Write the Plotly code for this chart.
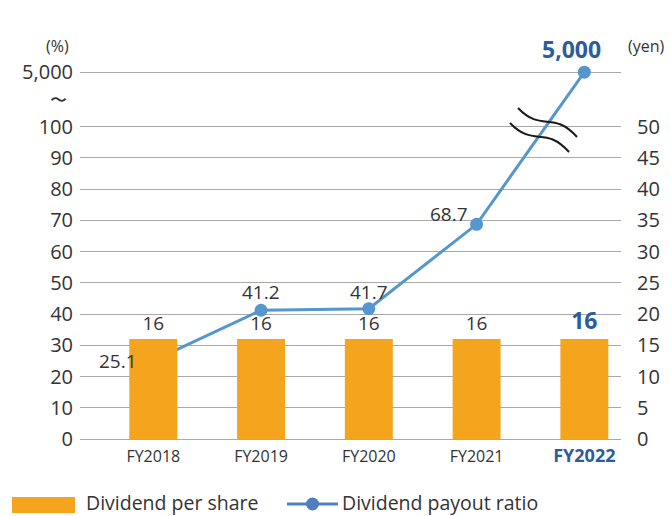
import plotly.graph_objects as go

# data
years = ["FY2018", "FY2019", "FY2020", "FY2021", "FY2022"]
dividend_yen = [16, 16, 16, 16, 16]
payout_pct = [25.1, 41.2, 41.7, 68.7, 5000]
left_ticks = [0, 10, 20, 30, 40, 50, 60, 70, 80, 90, 100]
right_ticks = [0, 5, 10, 15, 20, 25, 30, 35, 40, 45, 50]

ORANGE = "#F5A41D"
LINE = "#5597CC"
LEG_BLUE = "#4F7FC0"
NAVY = "#2C5C9C"
TXT = "#333333"
GRID = "#A9A9A9"
FONT = "Open Sans, Noto Sans, sans-serif"

# axis break: anything above 100 sits at the top gridline
BREAK_AT = 117.4


def shown(v):
    return BREAK_AT if v > 100 else v


def pct_label(v):
    return f"{v:,.0f}" if v > 100 else f"{v:.1f}"


# plot area in pixels (for paper-ref helper shapes)
PL, PR, PT, PB = 80, 621, 64, 439


def px(x, y):
    return (x - PL) / (PR - PL), (PB - y) / (PB - PT)


fig = go.Figure()

bar_text = [f"<b>{v}</b>" if i == len(years) - 1 else str(v) for i, v in enumerate(dividend_yen)]
fig.add_trace(go.Bar(
    x=years, y=dividend_yen, yaxis="y2", width=0.445,
    marker_color=ORANGE, marker_line_width=0,
    text=bar_text, textposition="outside", cliponaxis=False,
    textfont=dict(size=[19, 19, 19, 19, 23], color=[TXT, TXT, TXT, TXT, NAVY], family=FONT),
    showlegend=False,
))

fig.add_trace(go.Scatter(
    x=years, y=[shown(v) for v in payout_pct], mode="lines+markers",
    line=dict(color=LINE, width=3), marker=dict(size=13, color=LINE),
    cliponaxis=False, showlegend=False,
))

# point labels: (xanchor, xshift, yshift)
pos = [("right", -14, 0), ("center", 0, 18), ("center", 0, 17), ("right", -7, 10), ("center", -13, 23)]
for i, (yr, v) in enumerate(zip(years, payout_pct)):
    last = i == len(years) - 1
    anchor, dx, dy = pos[i]
    fig.add_annotation(
        x=yr, y=shown(v), text=f"<b>{pct_label(v)}</b>" if last else pct_label(v),
        showarrow=False, xshift=dx, yshift=dy, xanchor=anchor, yanchor="middle",
        font=dict(size=23 if last else 19, color=NAVY if last else TXT, family=FONT),
    )

# axis break waves
for ox, oy in [(0, 0), (-8, 15)]:
    pts = [px(518 + ox, 108 + oy), px(542 + ox, 133 + oy), px(553 + ox, 110 + oy), px(577 + ox, 137 + oy)]
    path = "M {:.4f},{:.4f} C {:.4f},{:.4f} {:.4f},{:.4f} {:.4f},{:.4f}".format(*[c for p in pts for c in p])
    fig.add_shape(type="path", path=path, xref="paper", yref="paper",
                  line=dict(color="#1a1a1a", width=2))


def note(x, y, text, size, anchor="center"):
    fig.add_annotation(x=px(x, 0)[0], y=px(0, y)[1], xref="paper", yref="paper", text=text,
                       xanchor=anchor, yanchor="middle", showarrow=False,
                       font=dict(size=size, color=TXT, family=FONT))


# unit labels and break mark
note(57, 46, "(%)", 16)
note(646, 46, "(yen)", 16)
note(58, 99, "〜", 17)

# custom legend
fig.add_shape(type="rect", xref="paper", yref="paper",
              x0=px(12, 0)[0], x1=px(75, 0)[0], y0=px(0, 513)[1], y1=px(0, 497)[1],
              fillcolor=ORANGE, line_width=0)
note(84, 502, "Dividend per share", 19.5, "left")
fig.add_shape(type="line", xref="paper", yref="paper",
              x0=px(287, 0)[0], x1=px(338, 0)[0], y0=px(0, 504)[1], y1=px(0, 504)[1],
              line=dict(color=LEG_BLUE, width=3))
fig.add_shape(type="circle", xref="paper", yref="paper",
              x0=px(306, 0)[0], x1=px(319, 0)[0], y0=px(0, 510.5)[1], y1=px(0, 497.5)[1],
              fillcolor=LEG_BLUE, line_width=0)
note(340, 502, "Dividend payout ratio", 19.5, "left")

tick_x = [f"<b><span style='color:{NAVY};font-size:18px'>{y}</span></b>" if i == len(years) - 1 else y
          for i, y in enumerate(years)]
fig.update_layout(
    width=671, height=516,
    margin=dict(l=PL, r=671 - PR, t=PT, b=516 - PB),
    plot_bgcolor="white", paper_bgcolor="white",
    font=dict(family=FONT, color=TXT),
    xaxis=dict(type="category", range=[-0.68, 4.34], tickvals=years, ticktext=tick_x,
               tickfont=dict(size=16, color=TXT), showgrid=False, showline=False,
               ticks="", ticklabelstandoff=6, automargin=False),
    yaxis=dict(range=[0, 120], tickvals=left_ticks + [BREAK_AT],
               ticktext=[str(v) for v in left_ticks] + ["5,000"],
               showgrid=True, gridcolor=GRID, gridwidth=1, zeroline=True,
               zerolinecolor=GRID, zerolinewidth=1, showline=False,
               tickfont=dict(size=20, color=TXT), ticklabelstandoff=6, automargin=False),
    yaxis2=dict(range=[0, 60], overlaying="y", side="right", tickvals=right_ticks,
                showgrid=False, zeroline=False, showline=False,
                tickfont=dict(size=20, color=TXT), ticklabelstandoff=15, automargin=False),
)

# the page body has a default 8px margin; drop it so the figure fills the window
fig.write_html("out.html", config={"displayModeBar": False},
               post_script="document.body.style.margin='0';")
